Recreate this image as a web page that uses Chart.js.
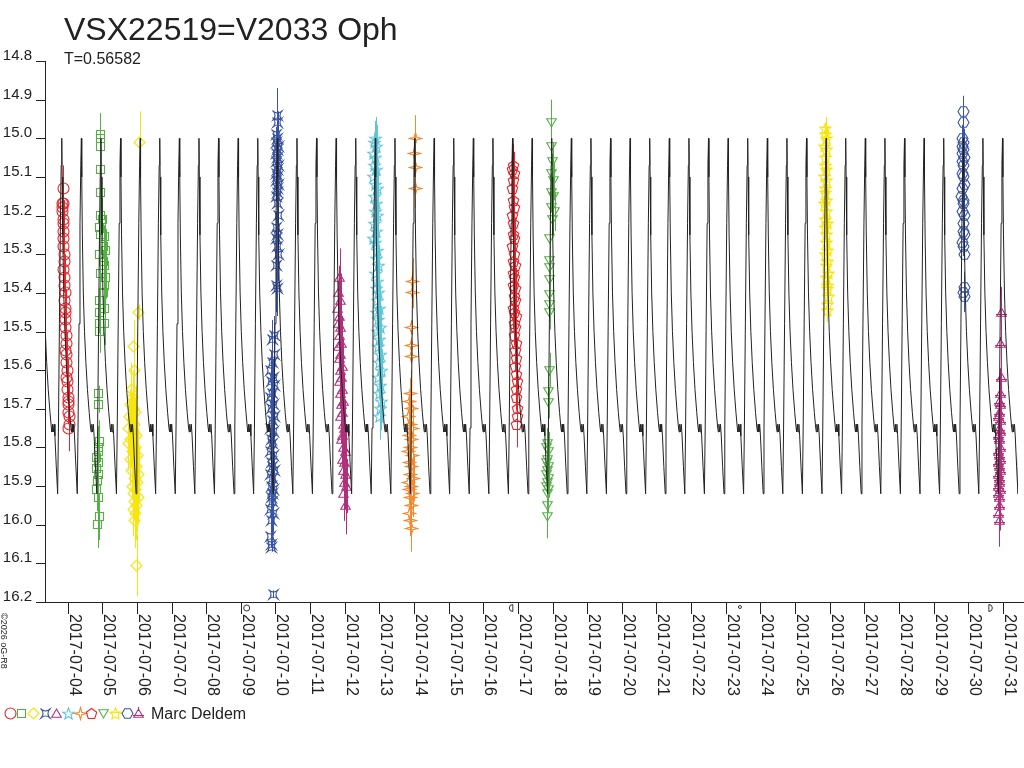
<!DOCTYPE html>
<html>
<head>
<meta charset="utf-8">
<title>VSX22519=V2033 Oph</title>
<script src="https://cdn.jsdelivr.net/npm/chart.js@4.4.1/dist/chart.umd.min.js"></script>
<style>
  body { margin: 0; background: #fff; }
</style>
</head>
<body>
<canvas id="lc" width="1024" height="768"></canvas>
<script>
// time axis is day of July 2017 (UT), magnitude axis is reversed
const starName = 'VSX22519=V2033 Oph';
const period = 0.56582;
const epochMax = 16.845;
const observer = 'Marc Deldem';

const tickDays = [4, 5, 6, 7, 8, 9, 10, 11, 12, 13, 14, 15, 16, 17, 18, 19, 20, 21, 22, 23, 24, 25, 26, 27, 28, 29, 30, 31];
const magTicks = [14.8, 14.9, 15.0, 15.1, 15.2, 15.3, 15.4, 15.5, 15.6, 15.7, 15.8, 15.9, 16.0, 16.1, 16.2];

// one cycle of the model light curve, phase 0 = maximum
const curvePhase = [0.00, 0.02, 0.05, 0.10, 0.16, 0.23, 0.31, 0.40, 0.47, 0.50, 0.53, 0.57, 0.61, 0.65, 0.72, 0.79, 0.83, 0.88, 0.93, 0.97];
const curveMag = [15.00, 15.10, 15.25, 15.40, 15.50, 15.58, 15.65, 15.71, 15.75, 15.76, 15.74, 15.76, 15.74, 15.77, 15.85, 15.92, 15.75, 15.48, 15.22, 15.07];

// moon phases shown under the time axis
const moonDays = [9.17, 16.81, 23.41, 30.64];
const moonKind = ['full', 'last', 'new', 'first'];

// observations: [day, mag, error]
const obsCircle = [
  [3.870, 15.13, 0.06], [3.850, 15.17, 0.06], [3.865, 15.18, 0.06], [3.879, 15.17, 0.06], [3.858, 15.19, 0.06],
  [3.872, 15.21, 0.06], [3.887, 15.22, 0.06], [3.879, 15.24, 0.06], [3.894, 15.26, 0.06], [3.885, 15.28, 0.06],
  [3.900, 15.30, 0.06], [3.908, 15.32, 0.06], [3.894, 15.34, 0.06], [3.915, 15.36, 0.06], [3.922, 15.38, 0.06],
  [3.930, 15.40, 0.06], [3.912, 15.42, 0.06], [3.937, 15.44, 0.06], [3.945, 15.45, 0.06], [3.951, 15.47, 0.06],
  [3.934, 15.49, 0.06], [3.958, 15.51, 0.06], [3.965, 15.53, 0.06], [3.951, 15.55, 0.06], [3.980, 15.56, 0.06],
  [3.972, 15.58, 0.06], [3.987, 15.60, 0.06], [3.980, 15.62, 0.06], [4.001, 15.63, 0.06], [4.009, 15.65, 0.06],
  [4.016, 15.67, 0.06], [4.023, 15.68, 0.06], [4.037, 15.69, 0.06], [4.030, 15.71, 0.06], [4.044, 15.72, 0.06],
  [4.052, 15.74, 0.06], [4.037, 15.75, 0.06]
];
const obsSquare = [
  [4.949, 14.99, 0.055], [4.949, 15.00, 0.055], [4.949, 15.02, 0.055], [4.949, 15.08, 0.055], [4.949, 15.14, 0.055],
  [4.949, 15.20, 0.055], [5.006, 15.21, 0.055], [4.929, 15.23, 0.055], [4.949, 15.25, 0.055], [5.072, 15.255, 0.055],
  [5.044, 15.28, 0.055], [5.101, 15.29, 0.055], [4.929, 15.30, 0.055], [5.044, 15.32, 0.055], [5.072, 15.33, 0.055],
  [4.949, 15.35, 0.055], [5.101, 15.36, 0.055], [5.072, 15.38, 0.055], [5.044, 15.40, 0.055], [4.929, 15.42, 0.055],
  [5.072, 15.44, 0.055], [4.909, 15.45, 0.055], [5.072, 15.48, 0.055], [4.929, 15.48, 0.055], [4.929, 15.50, 0.055],
  [4.900, 15.66, 0.02], [4.900, 15.69, 0.02], [4.909, 15.785, 0.055], [4.880, 15.80, 0.055], [4.880, 15.81, 0.055],
  [4.834, 15.825, 0.055], [4.880, 15.84, 0.055], [4.834, 15.855, 0.055], [4.880, 15.87, 0.055], [4.863, 15.885, 0.055],
  [4.834, 15.91, 0.055], [4.880, 15.93, 0.055], [4.909, 15.98, 0.06], [4.863, 16.00, 0.06]
];
const obsDiamond = [
  [6.079, 15.01, 0.08], [6.059, 15.45, 0.02], [5.906, 15.54, 0.07], [5.921, 15.60, 0.07], [5.840, 15.65, 0.07],
  [5.877, 15.67, 0.07], [5.820, 15.69, 0.07], [5.906, 15.70, 0.07], [5.964, 15.71, 0.07], [5.791, 15.72, 0.07],
  [5.863, 15.73, 0.07], [5.935, 15.74, 0.07], [5.762, 15.75, 0.07], [5.892, 15.76, 0.07], [5.993, 15.77, 0.07],
  [5.820, 15.78, 0.07], [5.748, 15.79, 0.07], [5.949, 15.80, 0.07], [5.877, 15.81, 0.07], [6.021, 15.82, 0.07],
  [5.806, 15.83, 0.07], [5.906, 15.84, 0.07], [5.978, 15.85, 0.07], [5.849, 15.86, 0.07], [6.050, 15.87, 0.07],
  [5.921, 15.88, 0.07], [6.007, 15.89, 0.07], [5.877, 15.90, 0.07], [5.964, 15.91, 0.07], [5.906, 15.92, 0.07],
  [6.036, 15.93, 0.07], [5.935, 15.94, 0.07], [5.993, 15.95, 0.07], [5.892, 15.96, 0.07], [5.964, 15.97, 0.07],
  [5.935, 15.99, 0.07], [6.001, 16.105, 0.08]
];
const obsAstroid = [
  [10.055, 14.94, 0.07], [10.055, 14.96, 0.07], [10.040, 14.99, 0.07], [10.070, 15.00, 0.07], [10.040, 15.01, 0.07],
  [10.084, 15.02, 0.07], [10.055, 15.03, 0.07], [10.026, 15.04, 0.07], [10.070, 15.05, 0.07], [10.040, 15.06, 0.07],
  [10.084, 15.07, 0.07], [10.055, 15.08, 0.07], [10.026, 15.09, 0.07], [10.070, 15.10, 0.07], [10.040, 15.11, 0.07],
  [10.084, 15.12, 0.07], [10.055, 15.13, 0.07], [10.070, 15.14, 0.07], [10.040, 15.15, 0.07], [10.055, 15.17, 0.07],
  [10.084, 15.20, 0.07], [10.040, 15.23, 0.07], [10.070, 15.25, 0.07], [10.026, 15.26, 0.07], [10.055, 15.28, 0.07],
  [10.084, 15.30, 0.07], [10.040, 15.33, 0.07], [10.026, 15.38, 0.07], [10.055, 15.39, 0.07],
  [9.960, 15.51, 0.05], [9.911, 15.52, 0.05], [9.960, 15.56, 0.05], [9.911, 15.58, 0.05], [9.865, 15.60, 0.05],
  [9.936, 15.62, 0.05], [9.890, 15.63, 0.05], [9.960, 15.64, 0.05], [9.911, 15.66, 0.05], [9.865, 15.67, 0.05],
  [9.936, 15.69, 0.05], [9.890, 15.70, 0.05], [9.960, 15.72, 0.05], [9.911, 15.73, 0.05], [9.865, 15.75, 0.05],
  [9.936, 15.76, 0.05], [9.890, 15.78, 0.05], [9.911, 15.79, 0.05], [9.865, 15.81, 0.05], [9.936, 15.82, 0.05],
  [9.890, 15.84, 0.05], [9.911, 15.85, 0.05], [9.960, 15.86, 0.05], [9.865, 15.87, 0.05], [9.911, 15.88, 0.05],
  [9.890, 15.90, 0.05], [9.936, 15.91, 0.05], [9.911, 15.92, 0.05], [9.890, 15.93, 0.05], [9.911, 15.94, 0.05],
  [9.865, 15.96, 0.05], [9.936, 15.97, 0.05], [9.890, 15.99, 0.05], [9.865, 16.03, 0.03], [9.890, 16.05, 0.01],
  [9.890, 16.06, 0.01], [9.936, 16.18, 0.01]
];
const obsTriangle = [
  [11.858, 15.36, 0.075], [11.829, 15.40, 0.07], [11.887, 15.42, 0.07], [11.800, 15.44, 0.07], [11.858, 15.46, 0.07],
  [11.829, 15.48, 0.07], [11.887, 15.49, 0.07], [11.858, 15.51, 0.07], [11.916, 15.53, 0.07], [11.829, 15.54, 0.07],
  [11.887, 15.56, 0.07], [11.858, 15.57, 0.07], [11.944, 15.59, 0.07], [11.887, 15.60, 0.07], [11.916, 15.62, 0.07],
  [11.858, 15.63, 0.07], [11.944, 15.65, 0.07], [11.887, 15.66, 0.07], [11.973, 15.68, 0.07], [11.916, 15.69, 0.07],
  [11.944, 15.71, 0.07], [11.887, 15.72, 0.07], [11.973, 15.74, 0.07], [12.002, 15.75, 0.07], [11.944, 15.77, 0.07],
  [11.916, 15.78, 0.07], [11.973, 15.80, 0.07], [12.031, 15.81, 0.07], [11.944, 15.83, 0.07], [12.002, 15.84, 0.07],
  [11.973, 15.86, 0.07], [12.031, 15.87, 0.07], [12.002, 15.89, 0.07], [12.060, 15.90, 0.07], [11.973, 15.92, 0.07],
  [12.031, 15.95, 0.075]
];
const obsStar = [
  [12.893, 15.00, 0.055], [12.864, 15.01, 0.055], [12.922, 15.02, 0.055], [12.836, 15.04, 0.055], [12.893, 15.05, 0.055],
  [12.864, 15.07, 0.055], [12.922, 15.08, 0.055], [12.836, 15.10, 0.055], [12.893, 15.12, 0.055], [12.951, 15.13, 0.055],
  [12.864, 15.15, 0.055], [12.922, 15.17, 0.055], [12.893, 15.19, 0.055], [12.951, 15.20, 0.055], [12.864, 15.22, 0.055],
  [12.922, 15.24, 0.055], [12.836, 15.26, 0.055], [12.893, 15.27, 0.055], [12.951, 15.29, 0.055], [12.922, 15.31, 0.055],
  [12.979, 15.33, 0.055], [12.893, 15.35, 0.055], [12.951, 15.37, 0.055], [12.922, 15.39, 0.055], [12.979, 15.40, 0.055],
  [12.951, 15.42, 0.055], [13.008, 15.44, 0.055], [12.922, 15.45, 0.055], [12.979, 15.47, 0.055], [13.037, 15.49, 0.055],
  [12.951, 15.50, 0.055], [13.008, 15.52, 0.055], [12.979, 15.54, 0.055], [13.037, 15.56, 0.055], [13.008, 15.58, 0.055],
  [13.066, 15.60, 0.055], [12.979, 15.62, 0.055], [13.037, 15.64, 0.055], [13.008, 15.66, 0.055], [13.066, 15.68, 0.055],
  [13.037, 15.70, 0.055], [13.008, 15.72, 0.06]
];
const obsStar4 = [
  [14.034, 15.00, 0.06], [14.015, 15.04, 0.05], [14.034, 15.075, 0.05], [14.034, 15.13, 0.05],
  [13.957, 15.37, 0.06], [13.957, 15.40, 0.04], [13.942, 15.49, 0.02], [13.928, 15.535, 0.02], [13.928, 15.565, 0.02],
  [13.900, 15.66, 0.06], [13.871, 15.68, 0.06], [13.928, 15.70, 0.06], [13.842, 15.72, 0.06], [13.900, 15.74, 0.06],
  [13.957, 15.75, 0.06], [13.871, 15.77, 0.06], [13.928, 15.78, 0.06], [13.900, 15.80, 0.06], [13.842, 15.81, 0.06],
  [13.957, 15.82, 0.06], [13.871, 15.84, 0.06], [13.928, 15.85, 0.06], [13.900, 15.87, 0.06], [13.986, 15.88, 0.06],
  [13.842, 15.89, 0.06], [13.928, 15.90, 0.06], [13.871, 15.91, 0.06], [13.957, 15.92, 0.06], [13.900, 15.93, 0.06],
  [13.928, 15.95, 0.06], [13.871, 15.97, 0.06], [13.900, 15.99, 0.06], [13.928, 16.01, 0.06]
];
const obsPentagon = [
  [16.861, 15.07, 0.055], [16.832, 15.08, 0.055], [16.890, 15.09, 0.055], [16.861, 15.11, 0.055], [16.832, 15.13, 0.055],
  [16.861, 15.16, 0.055], [16.890, 15.18, 0.055], [16.832, 15.20, 0.055], [16.875, 15.22, 0.055], [16.861, 15.25, 0.055],
  [16.904, 15.26, 0.055], [16.846, 15.28, 0.055], [16.890, 15.30, 0.055], [16.875, 15.32, 0.055], [16.919, 15.33, 0.055],
  [16.861, 15.35, 0.055], [16.904, 15.36, 0.055], [16.875, 15.38, 0.055], [16.933, 15.39, 0.055], [16.890, 15.41, 0.055],
  [16.919, 15.42, 0.055], [16.861, 15.44, 0.055], [16.904, 15.45, 0.055], [16.947, 15.46, 0.055], [16.890, 15.48, 0.055],
  [16.933, 15.49, 0.055], [16.904, 15.51, 0.055], [16.947, 15.53, 0.055], [16.919, 15.55, 0.055], [16.962, 15.57, 0.055],
  [16.933, 15.59, 0.055], [16.947, 15.61, 0.055], [16.976, 15.63, 0.055], [16.947, 15.65, 0.055], [16.962, 15.67, 0.055],
  [16.976, 15.70, 0.055], [16.976, 15.72, 0.055], [16.962, 15.74, 0.06]
];
const obsTriDown = [
  [17.962, 14.96, 0.06], [17.962, 15.02, 0.05], [18.011, 15.06, 0.05], [17.982, 15.09, 0.05], [18.040, 15.11, 0.05],
  [17.962, 15.14, 0.05], [18.025, 15.15, 0.05], [17.982, 15.18, 0.05], [18.060, 15.19, 0.05], [18.011, 15.21, 0.04],
  [17.916, 15.26, 0.045], [17.916, 15.315, 0.045], [17.916, 15.335, 0.045], [17.916, 15.365, 0.045], [17.916, 15.405, 0.045],
  [17.916, 15.43, 0.045], [17.916, 15.45, 0.045], [17.916, 15.60, 0.045], [17.882, 15.655, 0.045], [17.896, 15.685, 0.04],
  [17.867, 15.79, 0.05], [17.839, 15.80, 0.05], [17.896, 15.81, 0.05], [17.867, 15.83, 0.05], [17.839, 15.84, 0.05],
  [17.896, 15.85, 0.05], [17.867, 15.86, 0.05], [17.839, 15.87, 0.05], [17.896, 15.88, 0.05], [17.867, 15.89, 0.05],
  [17.839, 15.90, 0.05], [17.882, 15.91, 0.05], [17.867, 15.92, 0.05], [17.853, 15.95, 0.05], [17.853, 15.98, 0.055]
];
const obsStarB = [
  [25.890, 14.975, 0.03], [25.875, 14.99, 0.03], [25.918, 15.00, 0.03], [25.861, 15.02, 0.03], [25.904, 15.03, 0.03],
  [25.890, 15.05, 0.03], [25.875, 15.07, 0.03], [25.918, 15.08, 0.03], [25.861, 15.10, 0.03], [25.904, 15.11, 0.03],
  [25.890, 15.13, 0.03], [25.875, 15.14, 0.03], [25.918, 15.16, 0.03], [25.861, 15.17, 0.03], [25.904, 15.19, 0.03],
  [25.890, 15.21, 0.03], [25.932, 15.22, 0.03], [25.875, 15.23, 0.03], [25.918, 15.25, 0.03], [25.904, 15.27, 0.03],
  [25.947, 15.29, 0.03], [25.890, 15.30, 0.03], [25.932, 15.32, 0.03], [25.918, 15.33, 0.03], [25.961, 15.35, 0.03],
  [25.918, 15.36, 0.03], [25.947, 15.38, 0.03], [25.932, 15.39, 0.03], [25.961, 15.41, 0.03], [25.947, 15.43, 0.03],
  [25.932, 15.445, 0.03]
];
const obsHexagon = [
  [29.857, 14.93, 0.04], [29.857, 14.96, 0.035], [29.828, 15.00, 0.035], [29.872, 15.01, 0.035], [29.843, 15.02, 0.035],
  [29.857, 15.03, 0.035], [29.828, 15.04, 0.035], [29.886, 15.05, 0.035], [29.843, 15.06, 0.035], [29.872, 15.07, 0.035],
  [29.828, 15.09, 0.035], [29.857, 15.10, 0.035], [29.886, 15.12, 0.035], [29.843, 15.13, 0.035], [29.814, 15.15, 0.035],
  [29.872, 15.16, 0.035], [29.857, 15.17, 0.035], [29.843, 15.19, 0.035], [29.886, 15.20, 0.035], [29.872, 15.22, 0.035],
  [29.857, 15.24, 0.035], [29.886, 15.25, 0.035], [29.843, 15.27, 0.035], [29.872, 15.28, 0.035], [29.886, 15.30, 0.02],
  [29.886, 15.385, 0.04], [29.872, 15.40, 0.04], [29.886, 15.41, 0.04]
];
const obsTriStar = [
  [30.949, 15.45, 0.065], [30.935, 15.53, 0.065], [30.949, 15.62, 0.065], [30.921, 15.66, 0.065], [30.892, 15.68, 0.065],
  [30.935, 15.69, 0.065], [30.906, 15.71, 0.065], [30.878, 15.72, 0.065], [30.921, 15.73, 0.065], [30.892, 15.75, 0.065],
  [30.935, 15.76, 0.065], [30.863, 15.77, 0.065], [30.906, 15.78, 0.065], [30.921, 15.80, 0.065], [30.878, 15.81, 0.065],
  [30.892, 15.82, 0.065], [30.935, 15.83, 0.065], [30.863, 15.84, 0.065], [30.906, 15.85, 0.065], [30.921, 15.86, 0.065],
  [30.878, 15.87, 0.065], [30.892, 15.88, 0.065], [30.906, 15.89, 0.065], [30.863, 15.90, 0.065], [30.921, 15.91, 0.065],
  [30.878, 15.92, 0.065], [30.892, 15.93, 0.065], [30.906, 15.95, 0.065], [30.878, 15.97, 0.065], [30.892, 15.99, 0.067]
];

const series = [
  { data: obsCircle, shape: 'circle', color: '#e8262c' },
  { data: obsSquare, shape: 'square', color: '#55b046' },
  { data: obsDiamond, shape: 'diamond', color: '#f7e60c' },
  { data: obsAstroid, shape: 'astroid', color: '#3a54a4' },
  { data: obsTriangle, shape: 'triangle', color: '#b1307b' },
  { data: obsStar, shape: 'star', color: '#5ec6d8' },
  { data: obsStar4, shape: 'star4', color: '#f48a32' },
  { data: obsPentagon, shape: 'pentagon', color: '#e8262c' },
  { data: obsTriDown, shape: 'triDown', color: '#55b046' },
  { data: obsStarB, shape: 'starB', color: '#f7e60c' },
  { data: obsHexagon, shape: 'hexagon', color: '#3a54a4' },
  { data: obsTriStar, shape: 'triStar', color: '#b1307b' }
];

const FONT = "'Liberation Sans', Arial, sans-serif";
const INK = '#222';

function pathPoly(g, cx, cy, r, n, a0) {
  for (let i = 0; i < n; i++) {
    const a = a0 + i * 2 * Math.PI / n;
    const px = cx + r * Math.cos(a), py = cy + r * Math.sin(a);
    if (i === 0) g.moveTo(px, py); else g.lineTo(px, py);
  }
  g.closePath();
}

function pathStar(g, cx, cy, r1, r2, n, a0) {
  for (let i = 0; i < 2 * n; i++) {
    const r = i % 2 === 0 ? r1 : r2;
    const a = a0 + i * Math.PI / n;
    const px = cx + r * Math.cos(a), py = cy + r * Math.sin(a);
    if (i === 0) g.moveTo(px, py); else g.lineTo(px, py);
  }
  g.closePath();
}

function makeMarker(shape, color) {
  const c = document.createElement('canvas');
  c.width = 15; c.height = 15;
  const g = c.getContext('2d');
  const cx = 7.5, cy = 7.5, up = -Math.PI / 2;
  g.strokeStyle = color;
  g.lineWidth = 1.1;
  g.beginPath();
  if (shape === 'circle') g.arc(cx, cy, 5.5, 0, Math.PI * 2);
  else if (shape === 'square') g.rect(3.5, 3.5, 8, 8);
  else if (shape === 'diamond') pathPoly(g, cx, cy, 5.5, 4, up);
  else if (shape === 'astroid') {
    g.moveTo(3.5, 3.5);
    g.quadraticCurveTo(7.5, 6.5, 11.5, 3.5);
    g.quadraticCurveTo(8.5, 7.5, 11.5, 11.5);
    g.quadraticCurveTo(7.5, 8.5, 3.5, 11.5);
    g.quadraticCurveTo(6.5, 7.5, 3.5, 3.5);
    g.moveTo(2.5, 2.5); g.lineTo(4, 4);
    g.moveTo(12.5, 2.5); g.lineTo(11, 4);
    g.moveTo(12.5, 12.5); g.lineTo(11, 11);
    g.moveTo(2.5, 12.5); g.lineTo(4, 11);
  }
  else if (shape === 'triangle') pathPoly(g, cx, cy + 1, 5.5, 3, up);
  else if (shape === 'star') pathStar(g, cx, cy + 0.5, 6, 2.5, 5, up);
  else if (shape === 'star4') pathStar(g, cx, cy, 6, 1.8, 4, up);
  else if (shape === 'pentagon') pathPoly(g, cx, cy + 0.5, 5.5, 5, up);
  else if (shape === 'triDown') pathPoly(g, cx, cy - 1, 5.5, 3, Math.PI / 2);
  else if (shape === 'starB') {
    pathStar(g, cx, cy + 0.5, 6, 2.8, 5, up);
    g.moveTo(2, 6.5); g.lineTo(13, 6.5);
  }
  else if (shape === 'hexagon') pathPoly(g, cx, cy, 5.5, 6, 0);
  else if (shape === 'triStar') {
    pathPoly(g, cx, cy + 1, 5.5, 3, up);
    g.moveTo(2, 9.5); g.lineTo(13, 9.5);
    g.moveTo(7.5, 1); g.lineTo(7.5, 4);
  }
  g.stroke();
  return c;
}

series.forEach(s => { s.marker = makeMarker(s.shape, s.color); });

// model curve, one template cycle per period across the whole window
const curve = [];
for (let n = -24; n <= 26; n++) {
  for (let i = 0; i < curvePhase.length; i++) {
    curve.push({ x: epochMax + (n + curvePhase[i]) * period, y: curveMag[i] });
  }
}

const datasets = [{
  data: curve,
  showLine: true,
  borderColor: INK,
  borderWidth: 1,
  pointRadius: 0,
  tension: 0,
  order: 0
}];
series.forEach(s => {
  datasets.push({
    data: s.data.map(p => ({ x: p[0], y: p[1], e: p[2] })),
    pointStyle: s.marker,
    pointRadius: 5,
    borderColor: s.color,
    backgroundColor: s.color,
    order: 1
  });
});

const errorBars = {
  id: 'errorBars',
  beforeDatasetsDraw(chart) {
    const { ctx, chartArea, scales } = chart;
    // markers are pre-drawn images, keep them crisp
    ctx.imageSmoothingEnabled = false;
    ctx.save();
    ctx.beginPath();
    ctx.rect(chartArea.left, chartArea.top, chartArea.right - chartArea.left, chartArea.bottom - chartArea.top);
    ctx.clip();
    ctx.lineWidth = 1;
    series.forEach(s => {
      ctx.strokeStyle = s.color;
      ctx.beginPath();
      s.data.forEach(p => {
        const px = Math.round(scales.x.getPixelForValue(p[0])) + 0.5;
        ctx.moveTo(px, scales.y.getPixelForValue(p[1] - p[2]));
        ctx.lineTo(px, scales.y.getPixelForValue(p[1] + p[2]));
      });
      ctx.stroke();
    });
    ctx.restore();
  }
};

const frame = {
  id: 'frame',
  afterDraw(chart) {
    const { ctx, chartArea, scales } = chart;
    const left = chartArea.left, bottom = chartArea.bottom;
    ctx.save();
    ctx.imageSmoothingEnabled = false;
    ctx.strokeStyle = INK;
    ctx.fillStyle = INK;
    ctx.lineWidth = 1;

    // axis lines
    ctx.beginPath();
    ctx.moveTo(left + 0.5, chartArea.top);
    ctx.lineTo(left + 0.5, bottom + 0.5);
    ctx.moveTo(36, bottom + 0.5);
    ctx.lineTo(chart.width, bottom + 0.5);
    ctx.stroke();

    // magnitude ticks
    ctx.font = '15px ' + FONT;
    ctx.textAlign = 'right';
    ctx.textBaseline = 'alphabetic';
    magTicks.forEach(v => {
      const py = Math.round(scales.y.getPixelForValue(v)) + 0.5;
      ctx.beginPath();
      ctx.moveTo(36, py);
      ctx.lineTo(left, py);
      ctx.stroke();
      ctx.fillText(v.toFixed(1), 32, py - 2);
    });

    // date ticks, labels turned to read downwards
    ctx.font = '16px ' + FONT;
    ctx.textAlign = 'left';
    tickDays.forEach(d => {
      const px = Math.round(scales.x.getPixelForValue(d)) + 0.5;
      ctx.beginPath();
      ctx.moveTo(px, bottom);
      ctx.lineTo(px, bottom + 12);
      ctx.stroke();
      ctx.save();
      ctx.translate(px + 1, bottom + 12);
      ctx.rotate(Math.PI / 2);
      ctx.fillText('2017-07-' + String(d).padStart(2, '0'), 0, 0);
      ctx.restore();
    });

    // moon phases
    ctx.strokeStyle = '#333';
    moonDays.forEach((d, i) => {
      const px = scales.x.getPixelForValue(d);
      const py = bottom + 6;
      ctx.beginPath();
      if (moonKind[i] === 'full') ctx.arc(px, py, 3, 0, Math.PI * 2);
      else if (moonKind[i] === 'new') ctx.arc(px, py - 1, 1.5, 0, Math.PI * 2);
      else if (moonKind[i] === 'first') {
        ctx.moveTo(px - 1.5, py - 3.5);
        ctx.arc(px - 1.5, py, 3.5, -Math.PI / 2, Math.PI / 2);
        ctx.closePath();
      } else {
        ctx.moveTo(px + 1.5, py - 3.5);
        ctx.arc(px + 1.5, py, 3.5, -Math.PI / 2, Math.PI / 2, true);
        ctx.closePath();
      }
      ctx.stroke();
    });

    // title block
    ctx.fillStyle = INK;
    ctx.font = '32px ' + FONT;
    ctx.fillText(starName, 64, 40);
    ctx.font = '16px ' + FONT;
    ctx.fillText('T=' + period, 64, 64);

    // legend
    series.forEach((s, i) => {
      ctx.drawImage(s.marker, Math.round(9.5 + i * 11.7) - 7, 706);
    });
    ctx.font = '16px ' + FONT;
    ctx.fillText(observer, 151, 719);

    // copyright, turned
    ctx.save();
    ctx.font = '9px ' + FONT;
    ctx.translate(1, 613);
    ctx.rotate(Math.PI / 2);
    ctx.fillText('\u00a92026 oG-R8', 0, 0);
    ctx.restore();

    ctx.restore();
  }
};

new Chart(document.getElementById('lc'), {
  type: 'scatter',
  data: { datasets: datasets },
  options: {
    responsive: false,
    devicePixelRatio: 1,
    animation: false,
    layout: { padding: { left: 45, right: 2, top: 61, bottom: 166 } },
    plugins: { legend: { display: false }, tooltip: { enabled: false } },
    scales: {
      x: { type: 'linear', min: 3.347, max: 31.438, display: false },
      y: { type: 'linear', reverse: true, min: 14.8, max: 16.2, display: false }
    }
  },
  plugins: [errorBars, frame]
});
</script>
</body>
</html>
